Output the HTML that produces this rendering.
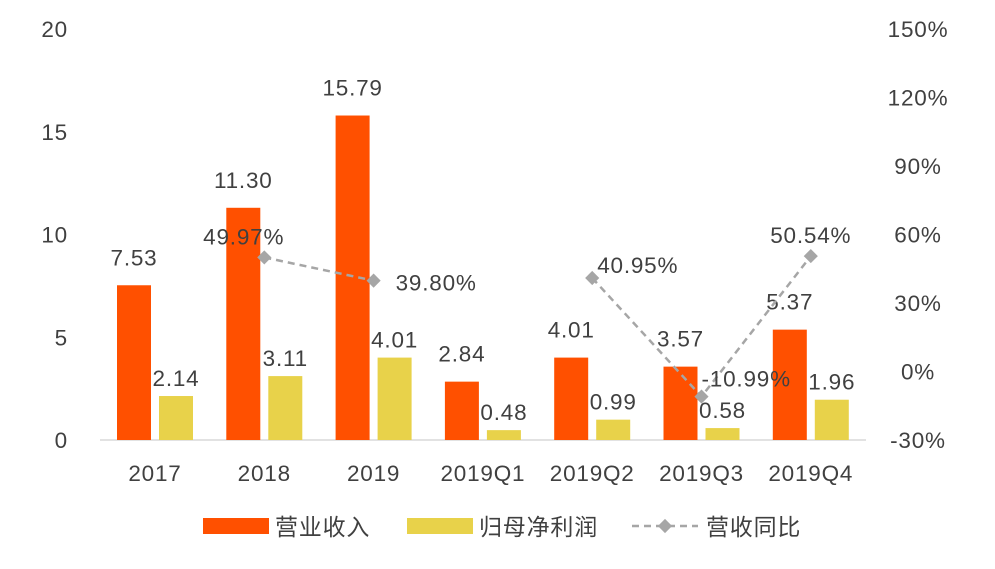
<!DOCTYPE html>
<html><head><meta charset="utf-8"><style>
body{margin:0;background:#fff;}
svg text{font-family:"Liberation Sans","Noto Sans CJK SC",sans-serif;fill:#404040;letter-spacing:0.8px;}
</style></head><body>
<svg id="chart" width="995" height="564" viewBox="0 0 995 564"></svg>
<script>
const categories=["2017","2018","2019","2019Q1","2019Q2","2019Q3","2019Q4"];
const revenue=[7.53,11.30,15.79,2.84,4.01,3.57,5.37];
const profit=[2.14,3.11,4.01,0.48,0.99,0.58,1.96];
const growth=[null,49.97,39.80,null,40.95,-10.99,50.54];
const leftTicks=[0,5,10,15,20];
const rightTicks=[-30,0,30,60,90,120,150];
const growthLabelPos=["","l","r","","r","r","a"];

const FS=22.5;
const svg=document.getElementById('chart');
const NS='http://www.w3.org/2000/svg';
const y0=440,yTop=29;
const yL=v=>y0-(v/20)*(y0-yTop);
const yR=v=>y0-((v+30)/180)*(y0-yTop);
const xC=i=>155+i*109.3;
function mk(tag,attrs,txt){const e=document.createElementNS(NS,tag);for(const k in attrs)e.setAttribute(k,attrs[k]);if(txt!==undefined)e.textContent=txt;svg.appendChild(e);return e;}

leftTicks.forEach(t=>{const e=mk('text',{x:68,y:yL(t)+8,'font-size':FS,'text-anchor':'end'},String(t));

});
rightTicks.forEach(t=>{const e=mk('text',{x:918,y:yR(t)+8,'font-size':FS,'text-anchor':'middle'},t+'%');

});
const ax=mk('line',{x1:100,x2:866,y1:y0,y2:y0,stroke:'#d9d9d9','stroke-width':1.5});



categories.forEach((c,i)=>{
 const x=xC(i);
 const b1=mk('rect',{x:x-38,y:yL(revenue[i]),width:34,height:y0-yL(revenue[i]),fill:'#FF5000'});
 
 
 const b2=mk('rect',{x:x+4,y:yL(profit[i]),width:34,height:y0-yL(profit[i]),fill:'#E8D24A'});
 
 
 const l1=mk('text',{x:x-21,y:yL(revenue[i])-20,'font-size':FS,'text-anchor':'middle'},revenue[i].toFixed(2));
 
 
 const l2=mk('text',{x:x+21,y:yL(profit[i])-10,'font-size':FS,'text-anchor':'middle'},profit[i].toFixed(2));
 
 
 const cl=mk('text',{x:x,y:481,'font-size':FS,'text-anchor':'middle'},c);
 
 
});

let seg=[];
const segs=[];
growth.forEach((g,i)=>{if(g===null){if(seg.length)segs.push(seg);seg=[];}else seg.push([xC(i),yR(g)]);});
if(seg.length)segs.push(seg);
segs.forEach(s=>{if(s.length<2)return;const p=mk('polyline',{points:s.map(q=>q.join(',')).join(' '),fill:'none',stroke:'#A6A6A6','stroke-width':2.5,'stroke-dasharray':'7,5'});

});
growth.forEach((g,i)=>{if(g===null)return;const x=xC(i),y=yR(g);
 const m=mk('rect',{x:x-5,y:y-5,width:10,height:10,fill:'#A6A6A6',transform:`rotate(45 ${x} ${y})`});
 
 
 const pos=growthLabelPos[i];let lx=x,ly=y,anc='middle';
 if(pos==='l'){lx=x+20;ly=y-13;anc='end';}
 else if(pos==='r'){lx=x+22;ly=y+10;anc='start';}
 else if(pos==='a'){lx=x;ly=y-13;anc='middle';}
 if(i===4){lx=x+5;ly=y-5;}
 if(i===5){lx=x+0;ly=y-10;}
 const t=mk('text',{x:lx,y:ly,'font-size':FS,'text-anchor':anc},g.toFixed(2)+'%');
 
 
});

const lg1=mk('rect',{x:203,y:518,width:66,height:16,fill:'#FF5000'});


const lt1=mk('text',{x:275,y:535,'font-size':23},'营业收入');


const lg2=mk('rect',{x:407,y:518,width:66,height:16,fill:'#E8D24A'});


const lt2=mk('text',{x:479,y:535,'font-size':23},'归母净利润');


const lg3=mk('line',{x1:632,x2:698,y1:526,y2:526,stroke:'#A6A6A6','stroke-width':2.5,'stroke-dasharray':'7,5'});


const lg4=mk('rect',{x:660,y:521,width:10,height:10,fill:'#A6A6A6',transform:'rotate(45 665 526)'});


const lt3=mk('text',{x:706,y:535,'font-size':23},'营收同比');


</script>
</body></html>
